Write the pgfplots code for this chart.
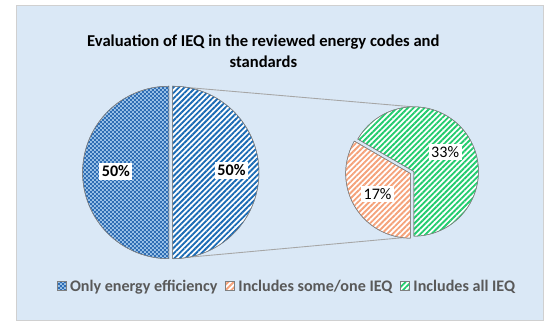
\documentclass[border=0pt]{standalone}
\usepackage{pgfplots}
\pgfplotsset{compat=1.18}
\usepackage{pgfplotstable}
\usepackage{fontspec}
\setmainfont{Carlito}
\usetikzlibrary{patterns,patterns.meta}

\definecolor{bgblue}{HTML}{DAE8F6}
\definecolor{boxborder}{HTML}{D0D0D0}
\definecolor{stripeblue}{HTML}{1A6BB5}
\definecolor{checkdark}{HTML}{2E6DB4}
\definecolor{checklight}{HTML}{9CC3E8}
\definecolor{orangeS}{HTML}{F5A27A}
\definecolor{greenS}{HTML}{22CC6E}
\definecolor{legtext}{HTML}{595959}
\definecolor{edgegray}{HTML}{7F7F7F}
\definecolor{linegray}{HTML}{A6A6A6}

\pgfdeclarepatternformonly{smallcheck}{\pgfpointorigin}{\pgfpoint{4bp}{4bp}}{\pgfpoint{4bp}{4bp}}{%
 \pgfpathrectangle{\pgfpointorigin}{\pgfpoint{2bp}{2bp}}%
 \pgfpathrectangle{\pgfpoint{2bp}{2bp}}{\pgfpoint{2bp}{2bp}}%
 \pgfusepath{fill}}

\pgfplotstableread{
cat value
only 50
some 16.67
all 33.33
}\piedata

\tikzset{
  wedgeedge/.style={draw=edgegray, line width=0.5bp},
  checkfill/.style={wedgeedge, fill=checklight, postaction={pattern=smallcheck, pattern color=checkdark}},
  bluestripe/.style={wedgeedge, fill=white, postaction={pattern={Lines[angle=45,distance=4bp,line width=1.9bp]}, pattern color=stripeblue}},
  orangestripe/.style={wedgeedge, fill=white, postaction={pattern={Lines[angle=45,distance=4bp,line width=1.9bp]}, pattern color=orangeS}},
  greenstripe/.style={wedgeedge, fill=white, postaction={pattern={Lines[angle=45,distance=4bp,line width=1.9bp]}, pattern color=greenS}},
}

\begin{document}
\pgfplotstablegetelem{0}{value}\of{\piedata}\edef\vOnly{\pgfplotsretval}
\pgfplotstablegetelem{1}{value}\of{\piedata}\edef\vSome{\pgfplotsretval}
\pgfplotstablegetelem{2}{value}\of{\piedata}\edef\vAll{\pgfplotsretval}
\pgfmathsetmacro\aOnly{90+3.6*\vOnly}
\pgfmathsetmacro\aSome{270-\vSome/(\vSome+\vAll)*360}
\begin{tikzpicture}
\begin{axis}[
  x=1bp, y=1bp, xmin=0, xmax=550, ymin=0, ymax=334,
  hide axis, clip=false, no markers,
  legend image code/.code={\draw[#1] (0bp,-4.5bp) rectangle (9bp,4.5bp); \path (11bp,0bp);},
  legend style={at={(axis cs:281.5,42)}, anchor=center, draw=none, fill=none,
    legend columns=3, font=\bfseries\fontsize{16.5}{18}\selectfont, text=legtext,
    /tikz/every even column/.append style={column sep=6bp},
    legend cell align=left, inner sep=0pt},
]
\fill[white] (axis cs:0,0) rectangle (axis cs:550,334);
\draw[fill=bgblue, draw=boxborder, line width=0.8bp] (axis cs:5,7) rectangle (axis cs:543,328);

% connector lines
\addplot[linegray, line width=0.9bp, forget plot] coordinates {(165,246) (410,225)};
\addplot[linegray, line width=0.9bp, forget plot] coordinates {(165,70) (406,92)};

% left pie: only energy efficiency
\addplot[checkfill, domain=90:\aOnly, samples=120, variable=\t]
  ({161+88*cos(t)},{158+88*sin(t)}) -- (axis cs:161,158) -- cycle;
\addlegendentry{Only energy efficiency}
% second pie: includes some/one IEQ (exploded)
\addplot[orangestripe, domain=\aSome:270, samples=80, variable=\t]
  ({407.5+66*cos(t)},{157+66*sin(t)}) -- (axis cs:407.5,157) -- cycle;
\addlegendentry{Includes some/one IEQ}
% second pie: includes all IEQ
\addplot[greenstripe, domain=-90:\aSome, samples=160, variable=\t]
  ({411+66*cos(t)},{159+66*sin(t)}) -- (axis cs:411,159) -- cycle;
\addlegendentry{Includes all IEQ}
% left pie: other half (exploded)
\addplot[bluestripe, domain=\aOnly:450, samples=120, variable=\t, forget plot]
  ({165+88*cos(t)},{158+88*sin(t)}) -- (axis cs:165,158) -- cycle;

\node[align=center, font=\bfseries\fontsize{17}{21}\selectfont] at (axis cs:257.5,281.5)
  {Evaluation of IEQ in the reviewed energy codes and\\standards};
\node[fill=white, inner sep=2.5bp, font=\bfseries\fontsize{16.5}{18}\selectfont] at (axis cs:107,159) {50\%};
\node[fill=white, inner sep=2.5bp, font=\bfseries\fontsize{16.5}{18}\selectfont] at (axis cs:225,160) {50\%};
\node[fill=white, inner sep=2.5bp, font=\fontsize{16.5}{18}\selectfont] at (axis cs:443,179) {33\%};
\node[fill=white, inner sep=2.5bp, font=\fontsize{16.5}{18}\selectfont] at (axis cs:374,136) {17\%};
\end{axis}
\end{tikzpicture}
\end{document}
